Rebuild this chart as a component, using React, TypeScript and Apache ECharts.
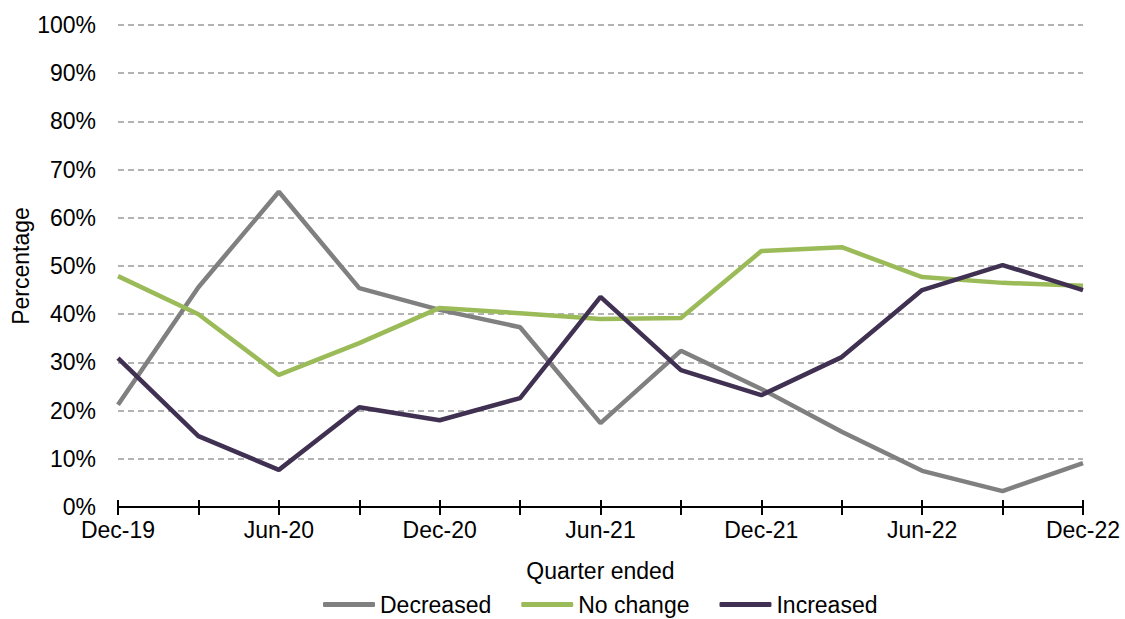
import React, { useEffect, useRef } from "react";
import * as echarts from "echarts";

const quarters = [
  "Dec-19", "Mar-20", "Jun-20", "Sep-20", "Dec-20", "Mar-21", "Jun-21",
  "Sep-21", "Dec-21", "Mar-22", "Jun-22", "Sep-22", "Dec-22",
];
const decreased = [21.2, 45.6, 65.4, 45.4, 40.9, 37.3, 17.4, 32.4, 24.5, 15.6, 7.5, 3.3, 9.1];
const noChange = [47.9, 40.0, 27.4, 34.0, 41.3, 40.2, 39.0, 39.2, 53.1, 53.9, 47.7, 46.5, 45.9];
const increased = [30.9, 14.7, 7.7, 20.7, 18.0, 22.6, 43.6, 28.4, 23.2, 31.1, 45.0, 50.2, 45.0];

const FONT = "Liberation Sans, Arial, sans-serif";
const FS = 23;

export default function App() {
  const ref = useRef<HTMLDivElement>(null);

  useEffect(() => {
    const chart = echarts.init(ref.current!, null, { renderer: "svg" });
    const line = (name: string, data: number[], color: string) => ({
      name,
      type: "line",
      data,
      symbol: "none",
      lineStyle: { width: 4.5, color },
      itemStyle: { color },
    });
    chart.setOption({
      animation: false,
      textStyle: { fontFamily: FONT },
      grid: { left: 118, right: 42, top: 25, bottom: 112, outerBoundsMode: "none" },
      legend: {
        bottom: -2,
        left: 318,
        itemWidth: 52,
        itemHeight: 5,
        itemGap: 30,
        icon: "roundRect",
        textStyle: { fontSize: FS, color: "#000", fontFamily: FONT, padding: [0, 0, 0, 0] },
        data: ["Decreased", "No change", "Increased"],
      },
      xAxis: [
        {
          type: "category",
          data: quarters,
          boundaryGap: false,
          name: "Quarter ended",
          nameLocation: "middle",
          nameGap: 52,
          nameMoveOverlap: false,
          nameTextStyle: { fontSize: FS, color: "#000", fontFamily: FONT },
          axisLine: { lineStyle: { color: "#000", width: 2 } },
          axisTick: { show: true, interval: 0, length: 8, lineStyle: { color: "#000", width: 2 } },
          axisLabel: { interval: 1, fontSize: FS, color: "#000", margin: 11, fontFamily: FONT },
          splitLine: { show: false },
        },
        {
          type: "category",
          data: quarters,
          boundaryGap: false,
          position: "bottom",
          axisLine: { show: false },
          axisTick: { show: true, inside: true, interval: 0, length: 7, lineStyle: { color: "#000", width: 2 } },
          axisLabel: { show: false },
          splitLine: { show: false },
        },
      ],
      yAxis: {
        type: "value",
        min: 0,
        max: 100,
        interval: 10,
        name: "Percentage",
        nameLocation: "middle",
        nameGap: 86,
        nameMoveOverlap: false,
        nameTextStyle: { fontSize: FS, color: "#000", fontFamily: FONT },
        axisLabel: { formatter: "{value}%", fontSize: FS, color: "#000", margin: 22, fontFamily: FONT },
        axisLine: { show: false },
        axisTick: { show: false },
        splitLine: { lineStyle: { color: "#b3b3b3", type: [6, 4], width: 2 } },
      },
      series: [
        line("Decreased", decreased, "#808080"),
        line("No change", noChange, "#9bbb59"),
        line("Increased", increased, "#403152"),
      ],
    });
    return () => chart.dispose();
  }, []);

  return <div ref={ref} style={{ width: 1125, height: 619, position: "absolute", left: 0, top: 0 }} />;
}
